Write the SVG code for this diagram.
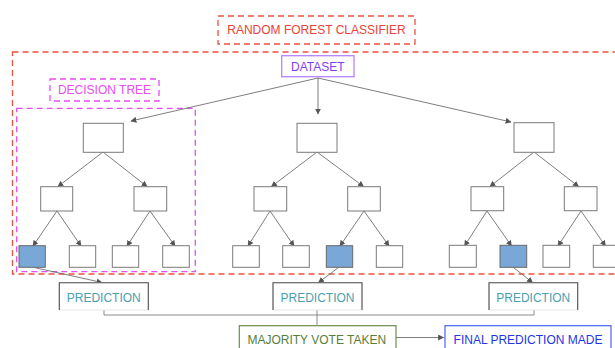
<svg xmlns="http://www.w3.org/2000/svg" width="615" height="348" viewBox="0 0 615 348">
  <defs>
    <marker id="arrow" viewBox="0 0 10 10" refX="9" refY="5" markerWidth="6" markerHeight="6" orient="auto-start-reverse" markerUnits="userSpaceOnUse">
      <path d="M0,0 L10,5 L0,10 z" fill="#555"/>
    </marker>
    <style>
      text { font-family: "Liberation Sans", Arial, sans-serif; font-size: 12px; text-anchor: middle; }
      .node { fill: #fff; stroke: #7a7a7a; stroke-width: 1; }
      .leaf { fill: #fff; stroke: #7a7a7a; stroke-width: 1; }
      .chosen { fill: #79a7d8; stroke: #6a6a6a; stroke-width: 1; }
      .edge { fill: none; stroke: #6f6f6f; stroke-width: 0.9; marker-end: url(#arrow); }
      .link { fill: none; stroke: #8a8a8a; stroke-width: 1; }
      .red-dash { fill: none; stroke: #f0503e; stroke-width: 1.3; stroke-dasharray: 6 4; }
      .mag-dash { fill: none; stroke: #e64ef0; stroke-width: 1.3; stroke-dasharray: 6 4; }
      .pred-box { fill: #fff; stroke: #e6e6e6; stroke-width: 1; }
      .pred-edge { fill: none; stroke: #505050; stroke-width: 1.1; }
      .pred-text { fill: #4a9fae; }
    </style>
  </defs>

  <!-- forest frame and labels -->
  <g id="forest-frame">
    <rect class="red-dash" x="12.5" y="52" width="610" height="222"/>
  </g>
  <g id="forest-label">
    <rect class="red-dash" x="218" y="16" width="197" height="28" fill="#fff"/>
    <text x="316.5" y="34.3" fill="#e8443a">RANDOM FOREST CLASSIFIER</text>
  </g>
  <g id="tree-frame">
    <rect class="mag-dash" x="16.7" y="108.3" width="178.6" height="163.4"/>
  </g>
  <g id="tree-label">
    <rect class="mag-dash" x="50" y="79" width="109" height="22"/>
    <text x="104.5" y="94.3" fill="#e64ef0">DECISION TREE</text>
  </g>

  <!-- dataset -->
  <g id="dataset">
    <rect x="281.7" y="55.7" width="72.3" height="21" fill="#fff" stroke="#b784ff" stroke-width="1.3"/>
    <text x="317.8" y="70.5" fill="#7e3ff2">DATASET</text>
  </g>

  <!-- connectors -->
  <g id="connectors">
    <!-- dataset to tree roots -->
    <path class="edge" d="M318,78 L131,121"/>
    <path class="edge" stroke="#aaa" d="M318,78 L318,114"/>
    <path class="edge" d="M318,78 L511,122"/>

    <!-- left tree -->
    <path class="edge" d="M103,152 L58,186.5"/>
    <path class="edge" d="M103,152 L147,186.5"/>
    <path class="edge" d="M57,211 L33,246"/>
    <path class="edge" d="M57,211 L81,246"/>
    <path class="edge" d="M150,211 L127,246"/>
    <path class="edge" d="M150,211 L175,246"/>

    <!-- middle tree -->
    <path class="edge" d="M317,152 L271.5,186.5"/>
    <path class="edge" d="M317,152 L363.5,186.5"/>
    <path class="edge" d="M270,211 L248,246"/>
    <path class="edge" d="M270,211 L294,246"/>
    <path class="edge" d="M364,211 L340,246"/>
    <path class="edge" d="M364,211 L389,246"/>

    <!-- right tree -->
    <path class="edge" d="M534,152 L490,186.5"/>
    <path class="edge" d="M534,152 L578.5,186.5"/>
    <path class="edge" d="M487,211 L464.5,246"/>
    <path class="edge" d="M487,211 L511.5,246"/>
    <path class="edge" d="M581,211 L558,246"/>
    <path class="edge" d="M581,211 L605.5,246"/>

    <!-- chosen leaves to predictions -->
    <path class="edge" d="M35,267.7 L102,282.5"/>
    <path class="edge" d="M338.5,267.5 L318.5,282.5"/>
    <path class="edge" d="M513.5,267.5 L532.5,282.5"/>

    <!-- predictions gathered into the vote -->
    <path class="link" stroke="#c4c4c4" d="M104,310 L104,315 L317,315"/>
    <path class="link" stroke="#7a7a7a" d="M317,315 L534,315 L534,310"/>
    <path class="link" stroke="#555" d="M317,310 L317,325.7"/>

    <!-- vote to final prediction -->
    <path class="edge" stroke="#888" d="M396,337.5 L443.5,337.5"/>
  </g>

  <!-- left tree nodes -->
  <g id="tree1-root"><rect class="node" x="83.3" y="123.3" width="40" height="29"/></g>
  <g id="tree1-l"><rect class="node" x="40.7" y="186.7" width="32" height="24.3"/></g>
  <g id="tree1-r"><rect class="node" x="134" y="186.7" width="32.7" height="24.3"/></g>
  <g id="tree1-leaf1"><rect class="chosen" x="19" y="245.7" width="26.3" height="21.6"/></g>
  <g id="tree1-leaf2"><rect class="leaf" x="69.3" y="245.7" width="26.4" height="21.6"/></g>
  <g id="tree1-leaf3"><rect class="leaf" x="112.3" y="245.7" width="26.4" height="21.6"/></g>
  <g id="tree1-leaf4"><rect class="leaf" x="162.7" y="245.7" width="26.6" height="21.6"/></g>

  <!-- middle tree nodes -->
  <g id="tree2-root"><rect class="node" x="297" y="123.3" width="40" height="29"/></g>
  <g id="tree2-l"><rect class="node" x="254" y="186.7" width="32.7" height="24.3"/></g>
  <g id="tree2-r"><rect class="node" x="347.7" y="186.7" width="32.6" height="24.3"/></g>
  <g id="tree2-leaf1"><rect class="leaf" x="232.7" y="245.7" width="26.6" height="21.6"/></g>
  <g id="tree2-leaf2"><rect class="leaf" x="282.7" y="245.7" width="26.6" height="21.6"/></g>
  <g id="tree2-leaf3"><rect class="chosen" x="326.3" y="245.7" width="26.4" height="21.6"/></g>
  <g id="tree2-leaf4"><rect class="leaf" x="376.3" y="245.7" width="26.4" height="21.6"/></g>

  <!-- right tree nodes -->
  <g id="tree3-root"><rect class="node" x="514" y="122.7" width="40" height="29.6"/></g>
  <g id="tree3-l"><rect class="node" x="471" y="186.7" width="32.7" height="24"/></g>
  <g id="tree3-r"><rect class="node" x="564.3" y="186.7" width="32.7" height="24"/></g>
  <g id="tree3-leaf1"><rect class="leaf" x="449.3" y="245.3" width="27" height="22"/></g>
  <g id="tree3-leaf2"><rect class="chosen" x="500" y="245.3" width="26.7" height="22"/></g>
  <g id="tree3-leaf3"><rect class="leaf" x="543" y="245.3" width="26.7" height="22"/></g>
  <g id="tree3-leaf4"><rect class="leaf" x="593.3" y="245.3" width="26.7" height="22"/></g>

  <!-- predictions -->
  <g id="prediction-1">
    <rect class="pred-box" x="59.3" y="282.7" width="89" height="27.3"/>
    <path class="pred-edge" d="M59.3,310 L59.3,282.7 L148.3,282.7 L148.3,310"/>
    <text class="pred-text" x="103.8" y="301.5">PREDICTION</text>
  </g>
  <g id="prediction-2">
    <rect class="pred-box" x="273" y="282.7" width="89" height="27.3"/>
    <path class="pred-edge" d="M273,310 L273,282.7 L362,282.7 L362,310"/>
    <text class="pred-text" x="317.5" y="301.5">PREDICTION</text>
  </g>
  <g id="prediction-3">
    <rect class="pred-box" x="489" y="282.7" width="88.7" height="27.3"/>
    <path class="pred-edge" d="M489,310 L489,282.7 L577.7,282.7 L577.7,310"/>
    <text class="pred-text" x="533.3" y="301.5">PREDICTION</text>
  </g>

  <!-- vote and result -->
  <g id="majority-vote">
    <rect x="239.3" y="325.7" width="156.7" height="30" fill="#fff" stroke="#6b8f4e" stroke-width="1.2"/>
    <text x="316.8" y="343.5" fill="#56803a">MAJORITY VOTE TAKEN</text>
  </g>
  <g id="final-prediction">
    <rect x="445" y="325.7" width="166" height="30" fill="#fff" stroke="#4a62f5" stroke-width="1.2"/>
    <text x="528" y="343.5" fill="#2236e8">FINAL PREDICTION MADE</text>
  </g>
</svg>
